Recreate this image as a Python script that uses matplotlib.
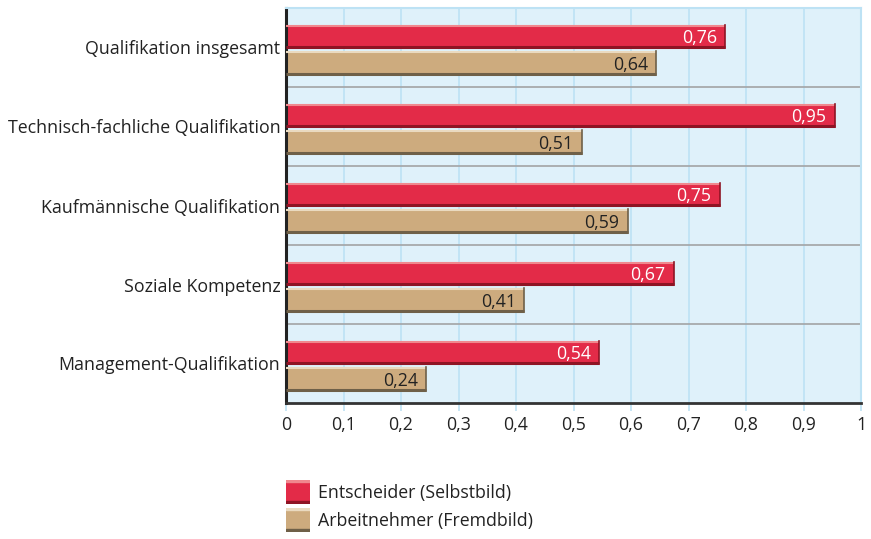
import matplotlib.pyplot as plt
import numpy as np

categories = ["Qualifikation insgesamt", "Technisch-fachliche Qualifikation",
              "Kaufmännische Qualifikation", "Soziale Kompetenz",
              "Management-Qualifikation"]
selbstbild = [0.76, 0.95, 0.75, 0.67, 0.54]
fremdbild = [0.64, 0.51, 0.59, 0.41, 0.24]
series_names = ["Entscheider (Selbstbild)", "Arbeitnehmer (Fremdbild)"]
xticks = [0, 0.1, 0.2, 0.3, 0.4, 0.5, 0.6, 0.7, 0.8, 0.9, 1]

plt.rcParams['font.family'] = ['Open Sans', 'DejaVu Sans']

RED = "#E32B48"
RED_TOP = "#F0888E"
RED_BOT = "#8E1424"
TAN = "#CDAB7E"
TAN_TOP = "#EADAC0"
TAN_BOT = "#6F6048"
TEXT = "#222222"
FS = 12.8

W, H = 871, 539
fig = plt.figure(figsize=(W / 100, H / 100), dpi=100)
ax = fig.add_axes([286 / W, 1 - 403 / H, (861 - 286) / W, (403 - 8) / H])
ax.set_facecolor("#DFF1FA")
ax.set_xlim(0, 1)
ax.set_ylim(5, 0)

for x in xticks[1:-1]:
    ax.axvline(x, color="#BDE2F4", lw=1.2, zorder=0)
for i in range(1, 5):
    ax.axhline(i, color="#A7A9AB", lw=1.3, zorder=1)

y = np.arange(5)
for vals, off, h, c, ctop, cbot, tc in [
        (selbstbild, 0.21, 0.30, RED, RED_TOP, RED_BOT, "white"),
        (fremdbild, 0.55, 0.30, TAN, TAN_TOP, TAN_BOT, TEXT)]:
    ax.barh(y + off, [v + 0.004 for v in vals], height=h, align="edge", color=c, zorder=2)
    for yi, v in zip(y, vals):
        ve = v + 0.004
        ax.plot([0, ve], [yi + off + 0.012, yi + off + 0.012], color=ctop, lw=1.5, zorder=3, solid_capstyle="butt")
        ax.plot([0, ve], [yi + off + h - 0.013, yi + off + h - 0.013], color=cbot, lw=2.2, zorder=3, solid_capstyle="butt")
        ax.plot([ve, ve], [yi + off, yi + off + h], color=cbot, lw=1.2, zorder=3)
        ax.text(v - 0.01, yi + off + h / 2 + 0.02, f"{v:.2f}".replace(".", ","),
                ha="right", va="center", color=tc, fontsize=FS, zorder=4)

ax.set_yticks(y + 0.5)
ax.set_yticklabels(categories, fontsize=FS, color=TEXT)
ax.tick_params(axis="y", length=0, pad=4)
ax.set_xticks(xticks)
ax.set_xticklabels([f"{t:g}".replace(".", ",") for t in xticks], fontsize=FS, color=TEXT)
ax.tick_params(axis="x", length=6, color="#BDE2F4", width=1.2, pad=3)

for s in ["top", "right"]:
    ax.spines[s].set_color("#BDE2F4")
    ax.spines[s].set_linewidth(1.5)
ax.spines["left"].set_color("#222222")
ax.spines["left"].set_linewidth(2.2)
ax.spines["bottom"].set_color("#333333")
ax.spines["bottom"].set_linewidth(2)

# legend
for i, (name, c, ctop, cbot) in enumerate([(series_names[0], RED, RED_TOP, RED_BOT),
                                            (series_names[1], TAN, TAN_TOP, TAN_BOT)]):
    top = 480 + i * 28
    lax = fig.add_axes([286 / W, 1 - (top + 24) / H, 24 / W, 24 / H])
    lax.set_xlim(0, 1)
    lax.set_ylim(1, 0)
    lax.axis("off")
    lax.add_patch(plt.Rectangle((0, 0), 1, 1, color=c))
    lax.add_patch(plt.Rectangle((0, 0), 1, 0.08, color=ctop))
    lax.add_patch(plt.Rectangle((0, 0.88), 1, 0.12, color=cbot))
    fig.text(318 / W, 1 - (top + 13) / H, name, fontsize=FS, color=TEXT, va="center", ha="left")

fig.savefig("out.png", dpi=100)
